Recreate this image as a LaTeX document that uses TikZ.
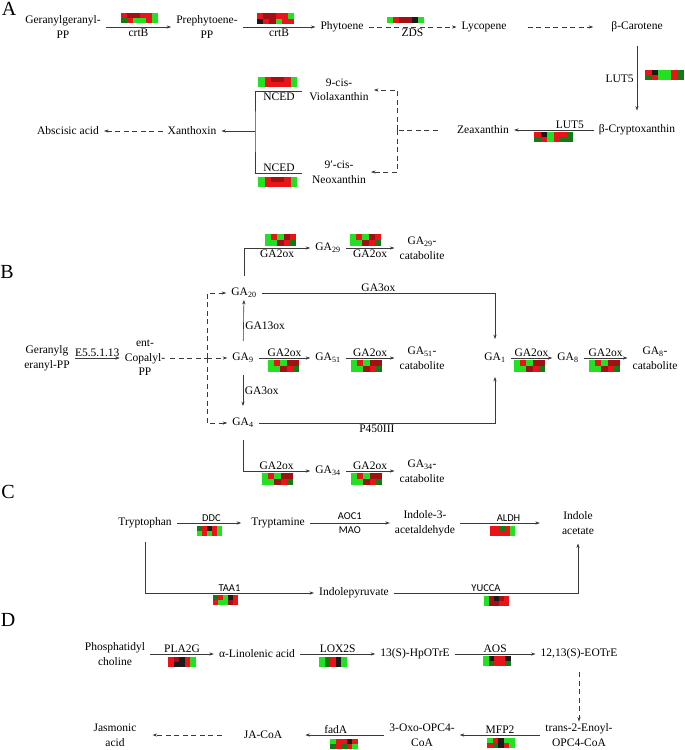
\documentclass[tikz,border=0pt]{standalone}
\usepackage{fontspec}
\setmainfont{Liberation Serif}
\newfontfamily\labelsans{Carlito}
\usepackage{tikz}
\usetikzlibrary{arrows.meta,calc}
\definecolor{LineGray}{HTML}{3A3A3A}
\definecolor{hG}{HTML}{22E022}
\definecolor{hR}{HTML}{E8141A}
\definecolor{hD}{HTML}{A01014}
\definecolor{hK}{HTML}{1A1A1A}
\definecolor{hE}{HTML}{157A15}
\newcommand{\heatmap}[5]{%
  \foreach \c [count=\i] in {#4}
    \fill[\c] ($(#1)+({(\i-1)*#2},0)$) rectangle ++(#2,#3);
  \foreach \c [count=\i] in {#5}
    \fill[\c] ($(#1)+({(\i-1)*#2},#3)$) rectangle ++(#2,#3);
}

\begin{document}
\begin{tikzpicture}[x=1pt,y=-1pt,font=\fontsize{11.5}{14.5}\selectfont,
  cmp/.style={inner xsep=5pt,inner ysep=2pt,align=center},
  enz/.style={inner sep=1.5pt},
  enzs/.style={inner sep=1.5pt,font=\labelsans\fontsize{10.5}{12}\selectfont},
  arr/.style={draw=LineGray,line width=0.6pt,-{Stealth[length=4.5pt,width=3.2pt]}},
  darr/.style={arr,dash pattern=on 5pt off 3.5pt},
  ln/.style={draw=LineGray,line width=0.6pt},
  dln/.style={ln,dash pattern=on 5pt off 3.5pt},
  panel/.style={font=\fontsize{20}{20}\selectfont,inner sep=0pt}]
  \useasboundingbox (0,0) rectangle (685,750);

  \node[panel] (pA) at (9,9) {A};
  \node[cmp] (ggpp) at (63,27) {Geranylgeranyl-\\PP};
  \node[cmp] (ppp) at (207,27) {Prephytoene-\\PP};
  \node[cmp] (phy) at (342,27) {Phytoene};
  \node[cmp] (lyc) at (484,27) {Lycopene};
  \node[cmp] (bcar) at (637,27) {β-Carotene};
  \node[cmp] (bcry) at (637,130) {β-Cryptoxanthin};
  \node[cmp] (zea) at (483,130) {Zeaxanthin};
  \node[cmp] (vio) at (339,90) {9-cis-\\Violaxanthin};
  \node[cmp] (neo) at (339,172) {9′-cis-\\Neoxanthin};
  \node[cmp] (xan) at (192,131) {Xanthoxin};
  \node[cmp] (aba) at (68,131) {Abscisic acid};
  \coordinate (brA) at (397,130);
  \coordinate (brB) at (255,131);
  \coordinate (ncT) at (302,91);
  \coordinate (ncB) at (302,173);

  \draw[arr] (ggpp.east) -- node[enz,below] (crtB1) {crtB} (ppp.west);
  \draw[arr] (ppp.east) -- node[enz,below] (crtB2) {crtB} (phy.west);
  \draw[darr] (phy) -- node[enz,below] (zds) {ZDS} (lyc);
  \draw[darr,shorten <=16pt,shorten >=13pt] (lyc) -- (bcar);
  \draw[arr,shorten <=12pt,shorten >=12pt] (bcar) -- node[enz,left,inner sep=3pt] (lut5a) {LUT5} (bcry);
  \draw[arr] (bcry) -- node[enz,above,pos=0.3] (lut5b) {LUT5} (zea);
  \draw[dln,shorten <=14pt] (zea.west) -- (brA);
  \draw[darr] (brA) |- (vio.east);
  \draw[darr] (brA) |- (neo.east);
  \draw[ln] (ncT) -| (brB) |- (ncB);
  \draw[arr] (brB) -- (xan.east);
  \draw[darr] (xan) -- (aba);
  \node[enz,below] (nced1) at (279,91) {NCED};
  \node[enz,above] (nced2) at (279,173) {NCED};

  \heatmap{121,13}{6.2}{5}{hR,hD,hD,hR,hR,hG}{hE,hR,hG,hG,hR,hG}
  \heatmap{257,13}{6.2}{5.5}{hR,hD,hD,hR,hR,hG}{hK,hR,hD,hG,hR,hR}
  \heatmap{387,17}{6.2}{3.2}{hG,hR,hD,hD,hK,hG}{hG,hR,hD,hD,hK,hG}
  \heatmap{645,70}{6.5}{5}{hR,hK,hG,hG,hR,hE}{hE,hR,hG,hG,hR,hE}
  \heatmap{534,132}{6.5}{5}{hR,hK,hG,hR,hR,hE}{hE,hR,hG,hR,hE,hE}
  \heatmap{258,77}{6.5}{5}{hG,hR,hD,hD,hR,hG}{hG,hR,hR,hR,hR,hG}
  \heatmap{258,177}{6.5}{5}{hG,hR,hD,hD,hR,hG}{hG,hR,hR,hR,hR,hG}

  \node[panel] (pB) at (7,272) {B};
  \node[cmp] (ggpp2) at (47,358) {Geranylg\\eranyl-PP};
  \node[cmp] (cpp) at (145,358) {ent-\\Copalyl-\\PP};
  \node[cmp] (ga20) at (244,293) {GA\textsubscript{20}};
  \node[cmp] (ga9) at (243,358) {GA\textsubscript{9}};
  \node[cmp] (ga4) at (243,423) {GA\textsubscript{4}};
  \node[cmp] (ga29) at (328,248) {GA\textsubscript{29}};
  \node[cmp] (ga29c) at (422,248) {GA\textsubscript{29}-\\catabolite};
  \node[cmp] (ga51) at (328,358) {GA\textsubscript{51}};
  \node[cmp] (ga51c) at (422,358) {GA\textsubscript{51}-\\catabolite};
  \node[cmp] (ga1) at (495,358) {GA\textsubscript{1}};
  \node[cmp] (ga8) at (568,358) {GA\textsubscript{8}};
  \node[cmp] (ga8c) at (655,358) {GA\textsubscript{8}-\\catabolite};
  \node[cmp] (ga34) at (328,471) {GA\textsubscript{34}};
  \node[cmp] (ga34c) at (422,471) {GA\textsubscript{34}-\\catabolite};
  \coordinate (brC) at (207,358);

  \draw[arr] (ggpp2.east) -- node[enz,above,inner sep=1pt] (e55) {E5.5.1.13} (cpp.west);
  \draw[dln] (cpp.east) -- (brC);
  \draw[darr] (brC) -- (ga9.west);
  \draw[darr] (brC) |- (ga20.west);
  \draw[darr] (brC) |- (ga4.west);
  \draw[arr,shorten <=10pt] (ga9) -- node[enz,right] (ga13ox) {GA13ox} (ga20);
  \draw[arr,shorten <=10pt,shorten >=10pt] (ga9) -- node[enz,right] (ga3ox2) {GA3ox} (ga4);
  \draw[arr,shorten <=10pt] (ga20) |- node[enz,below,pos=0.75] (ga2ox1) {GA2ox} (ga29);
  \draw[arr] (ga29) -- node[enz,below] (ga2ox2) {GA2ox} (ga29c);
  \draw[arr,shorten >=12pt] (ga20) -| node[enz,above,pos=0.25] (ga3ox1) {GA3ox} (ga1);
  \draw[arr,shorten >=12pt] (ga4) -| node[enz,below,pos=0.25] (p450) {P450III} (ga1);
  \draw[arr] (ga9) -- node[enz,above] (ga2ox3) {GA2ox} (ga51);
  \draw[arr] (ga51) -- node[enz,above] (ga2ox4) {GA2ox} (ga51c);
  \draw[arr] (ga1) -- node[enz,above] (ga2ox5) {GA2ox} (ga8);
  \draw[arr] (ga8) -- node[enz,above] (ga2ox6) {GA2ox} (ga8c);
  \draw[arr,shorten <=10pt] (ga4) |- node[enz,above,pos=0.75] (ga2ox7) {GA2ox} (ga34);
  \draw[arr] (ga34) -- node[enz,above] (ga2ox8) {GA2ox} (ga34c);

  \heatmap{265,234}{6.2}{6}{hG,hR,hG,hD,hR}{hG,hG,hD,hR,hE}
  \heatmap{350,234}{6.2}{6}{hG,hR,hG,hD,hR}{hG,hG,hD,hR,hE}
  \heatmap{268,360}{6.2}{6}{hG,hR,hG,hD,hD}{hG,hG,hD,hR,hE}
  \heatmap{351,360}{6.2}{6}{hG,hR,hG,hD,hD}{hG,hG,hD,hR,hE}
  \heatmap{514,360}{6.2}{6}{hG,hR,hG,hD,hD}{hG,hG,hD,hR,hE}
  \heatmap{589,360}{6.2}{6}{hG,hR,hG,hD,hD}{hG,hG,hD,hR,hE}
  \heatmap{262,473}{6.2}{6}{hG,hR,hG,hD,hD}{hG,hG,hD,hR,hE}
  \heatmap{351,473}{6.2}{6}{hG,hR,hG,hD,hD}{hG,hG,hD,hR,hE}

  \node[panel] (pC) at (8,492) {C};
  \node[cmp] (trp) at (145,523) {Tryptophan};
  \node[cmp] (tam) at (278,523) {Tryptamine};
  \node[cmp] (iad) at (425,523) {Indole-3-\\acetaldehyde};
  \node[cmp] (iaa) at (578,523) {Indole\\acetate};
  \node[cmp] (ipa) at (354,593) {Indolepyruvate};

  \draw[arr,shorten >=5pt] (trp) -- node[enzs,above] (ddc) {DDC} (tam);
  \draw[arr] (tam) -- node[enzs,above,inner sep=3pt] (aoc1) {AOC1} node[enzs,below,inner sep=3pt] (mao) {MAO} (iad);
  \draw[arr,shorten >=17pt] (iad) -- node[enzs,above] (aldh) {ALDH} (iaa);
  \draw[arr,shorten <=12pt] (trp) |- node[enzs,above,pos=0.75] (taa1) {TAA1} (ipa);
  \draw[arr,shorten >=7pt] (ipa) -| node[enzs,above,pos=0.25] (yucca) {YUCCA} (iaa);

  \heatmap{197,526}{5}{5}{hE,hR,hK,hR,hG}{hG,hR,hG,hR,hG}
  \heatmap{490,526}{5}{5}{hR,hR,hE,hR,hG}{hR,hR,hR,hR,hG}
  \heatmap{213,595}{5}{5}{hE,hR,hG,hK,hR}{hR,hG,hG,hD,hR}
  \heatmap{484,596}{5}{5}{hG,hD,hK,hD,hR}{hG,hD,hD,hR,hR}

  \node[panel] (pD) at (8,620) {D};
  \node[cmp] (pc) at (115,654) {Phosphatidyl\\choline};
  \node[cmp] (ala) at (257,654) {α-Linolenic acid};
  \node[cmp] (hpo) at (415,654) {13(S)-HpOTrE};
  \node[cmp] (eot) at (579,654) {12,13(S)-EOTrE};
  \node[cmp] (opc) at (579,735) {trans-2-Enoyl-\\OPC4-CoA};
  \node[cmp] (oxo) at (422,735) {3-Oxo-OPC4-\\CoA};
  \node[cmp] (jac) at (263,735) {JA-CoA};
  \node[cmp] (ja) at (115,735) {Jasmonic\\acid};

  \draw[arr] (pc) -- node[enz,above] (pla2g) {PLA2G} (ala);
  \draw[arr] (ala) -- node[enz,above] (lox2s) {LOX2S} (hpo);
  \draw[arr] (hpo) -- node[enz,above] (aos) {AOS} (eot);
  \draw[darr,shorten <=11pt] (eot) -- (opc);
  \draw[arr] (opc) -- node[enz,above] (mfp2) {MFP2} (oxo);
  \draw[arr,shorten >=18pt] (oxo) -- node[enz,above] (fada) {fadA} (jac);
  \draw[darr,shorten <=17pt,shorten >=11pt] (jac) -- (ja);

  \heatmap{168,657}{5.6}{5}{hR,hD,hK,hR,hG}{hR,hK,hK,hR,hG}
  \heatmap{319,657}{5.6}{5}{hG,hE,hR,hK,hG}{hG,hE,hR,hK,hG}
  \heatmap{483,656}{5.6}{5}{hG,hK,hR,hR,hK}{hG,hE,hR,hR,hE}
  \heatmap{487,738}{5.6}{5}{hG,hR,hK,hG,hG}{hR,hE,hK,hR,hG}
  \heatmap{330,739}{5.6}{5}{hG,hR,hR,hK,hR}{hE,hR,hE,hR,hG}
\end{tikzpicture}
\end{document}
